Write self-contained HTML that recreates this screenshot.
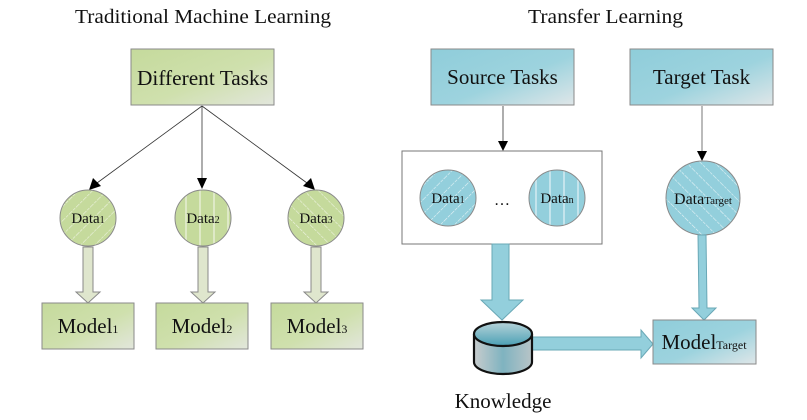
<!DOCTYPE html>
<html><head><meta charset="utf-8"><style>html,body{margin:0;padding:0;background:#fff}svg{display:block}text{font-family:"Liberation Serif",serif;fill:#111}</style></head>
<body>
<svg width="807" height="420" viewBox="0 0 807 420" xmlns="http://www.w3.org/2000/svg">
<defs>
<linearGradient id="g" x1="0" y1="0" x2="1" y2="1"><stop offset="0" stop-color="#c5da9c"/><stop offset="0.55" stop-color="#cfe0ad"/><stop offset="1" stop-color="#e2e6dc"/></linearGradient>
<linearGradient id="b" x1="0" y1="0" x2="1" y2="1"><stop offset="0" stop-color="#8fcdda"/><stop offset="0.55" stop-color="#9dd3de"/><stop offset="1" stop-color="#dfe6e8"/></linearGradient>
<pattern id="pg" width="10" height="10" patternUnits="userSpaceOnUse" patternTransform="rotate(45)"><rect width="10" height="10" fill="#c5da9c"/><line x1="0" y1="0" x2="0" y2="10" stroke="#eef3e2" stroke-width="1.2" stroke-dasharray="3 1"/></pattern>
<pattern id="pgv" width="14" height="10" patternUnits="userSpaceOnUse"><rect width="14" height="10" fill="#c5da9c"/><line x1="4" y1="0" x2="4" y2="10" stroke="#eef3e2" stroke-width="1.2"/></pattern>
<pattern id="pg2" width="10" height="10" patternUnits="userSpaceOnUse" patternTransform="rotate(-45)"><rect width="10" height="10" fill="#c5da9c"/><line x1="0" y1="0" x2="0" y2="10" stroke="#eef3e2" stroke-width="1.2" stroke-dasharray="3 1"/></pattern>
<pattern id="pb" width="10" height="10" patternUnits="userSpaceOnUse" patternTransform="rotate(45)"><rect width="10" height="10" fill="#93cfdc"/><line x1="0" y1="0" x2="0" y2="10" stroke="#e6f3f6" stroke-width="1.2" stroke-dasharray="3 1"/></pattern>
<pattern id="pbv" width="14" height="10" patternUnits="userSpaceOnUse"><rect width="14" height="10" fill="#93cfdc"/><line x1="4" y1="0" x2="4" y2="10" stroke="#e6f3f6" stroke-width="1.2"/></pattern>
<pattern id="pb2" width="10" height="10" patternUnits="userSpaceOnUse" patternTransform="rotate(-45)"><rect width="10" height="10" fill="#93cfdc"/><line x1="0" y1="0" x2="0" y2="10" stroke="#e6f3f6" stroke-width="1.2" stroke-dasharray="3 1"/></pattern>
<linearGradient id="cyl" x1="0" y1="0" x2="1" y2="0"><stop offset="0" stop-color="#c8cccd"/><stop offset="0.5" stop-color="#7fb3c0"/><stop offset="1" stop-color="#b8c4c7"/></linearGradient>
<linearGradient id="cylt" x1="0" y1="0" x2="0" y2="1"><stop offset="0" stop-color="#b8d4da"/><stop offset="1" stop-color="#4a9fb4"/></linearGradient>
</defs>

<text x="75" y="23" font-size="20" textLength="256" lengthAdjust="spacingAndGlyphs">Traditional Machine Learning</text>
<text x="528" y="23" font-size="20" textLength="155" lengthAdjust="spacingAndGlyphs">Transfer Learning</text>

<!-- Left -->
<rect x="131" y="49" width="143" height="56" fill="url(#g)" stroke="#8a8a8a"/>
<text x="202.5" y="85" font-size="21" text-anchor="middle" textLength="131" lengthAdjust="spacingAndGlyphs">Different Tasks</text>
<g stroke="#333" stroke-width="0.8">
<line x1="202" y1="106" x2="97" y2="183"/><line x1="202" y1="106" x2="202" y2="180"/><line x1="202" y1="106" x2="307" y2="183"/></g>
<polygon points="89,190 93,178 101,186" fill="#000"/>
<polygon points="197,178 207,178 202,189" fill="#000"/>
<polygon points="315,190 303,186 311,178" fill="#000"/>

<circle cx="88" cy="218" r="28" fill="url(#pg)" stroke="#8a8a8a"/>
<circle cx="203" cy="218" r="28" fill="url(#pgv)" stroke="#8a8a8a"/>
<circle cx="316" cy="218" r="28" fill="url(#pg2)" stroke="#8a8a8a"/>
<text x="88" y="223" font-size="15" text-anchor="middle">Data<tspan font-size="10">1</tspan></text>
<text x="203" y="223" font-size="15" text-anchor="middle">Data<tspan font-size="10">2</tspan></text>
<text x="316" y="223" font-size="15" text-anchor="middle">Data<tspan font-size="10">3</tspan></text>

<g fill="#dfe6cd" stroke="#888">
<polygon points="83,247 93,247 93,292 100,292 88,303 76,292 83,292"/>
<polygon points="198,247 208,247 208,292 215,292 203,303 191,292 198,292"/>
<polygon points="311,247 321,247 321,292 328,292 316,303 304,292 311,292"/>
</g>
<rect x="42" y="303" width="92" height="46" fill="url(#g)" stroke="#8a8a8a"/>
<rect x="156" y="303" width="92" height="46" fill="url(#g)" stroke="#8a8a8a"/>
<rect x="271" y="303" width="92" height="46" fill="url(#g)" stroke="#8a8a8a"/>
<text x="88" y="333" font-size="21" text-anchor="middle">Model<tspan font-size="12">1</tspan></text>
<text x="202" y="333" font-size="21" text-anchor="middle">Model<tspan font-size="12">2</tspan></text>
<text x="317" y="333" font-size="21" text-anchor="middle">Model<tspan font-size="12">3</tspan></text>

<!-- Right -->
<rect x="431" y="49" width="143" height="56" fill="url(#b)" stroke="#8a8a8a"/>
<text x="502.5" y="84" font-size="21" text-anchor="middle">Source Tasks</text>
<rect x="630" y="49" width="143" height="56" fill="url(#b)" stroke="#8a8a8a"/>
<text x="701.5" y="84" font-size="21" text-anchor="middle">Target Task</text>

<line x1="503" y1="106" x2="503" y2="143" stroke="#333" stroke-width="0.8"/>
<polygon points="498,141 508,141 503,151" fill="#000"/>
<line x1="702" y1="106" x2="702" y2="153" stroke="#555" stroke-width="0.8"/>
<polygon points="697,151 707,151 702,161" fill="#000"/>

<rect x="402" y="151" width="200" height="93" fill="#fff" stroke="#777"/>
<circle cx="448" cy="198" r="28" fill="url(#pb)" stroke="#8a8a8a"/>
<circle cx="557" cy="198" r="28" fill="url(#pbv)" stroke="#8a8a8a"/>
<text x="448" y="203" font-size="15" text-anchor="middle">Data<tspan font-size="10">1</tspan></text>
<text x="557" y="203" font-size="15" text-anchor="middle">Data<tspan font-size="10">n</tspan></text>
<text x="502" y="205" font-size="16" text-anchor="middle">…</text>

<circle cx="703" cy="198" r="37" fill="url(#pb2)" stroke="#8a8a8a"/>
<text x="703" y="204" font-size="16" text-anchor="middle">Data<tspan font-size="11">Target</tspan></text>

<polygon points="492,244 509,244 509,300 523,300 502,320 481,300 492,300" fill="#93cfdc" stroke="#6aa8b6"/>
<polygon points="698,235 706,235 707,308 716,308 704,320 692,308 699,308" fill="#93cfdc" stroke="#6aa8b6"/>
<polygon points="531,337 641,337 641,330 653,344 641,358 641,350 531,350" fill="#93cfdc" stroke="#6aa8b6"/>

<path d="M474,334 L474,362 A29,12 0 0 0 532,362 L532,334" fill="url(#cyl)" stroke="#111" stroke-width="2.2"/>
<ellipse cx="503" cy="334" rx="29" ry="12" fill="url(#cylt)" stroke="#111" stroke-width="2.2"/>

<rect x="653" y="320" width="103" height="44" fill="url(#b)" stroke="#8a8a8a"/>
<text x="704" y="349" font-size="21" text-anchor="middle">Model<tspan font-size="12">Target</tspan></text>

<text x="503" y="408" font-size="21" text-anchor="middle">Knowledge</text>
</svg>
</body></html>
